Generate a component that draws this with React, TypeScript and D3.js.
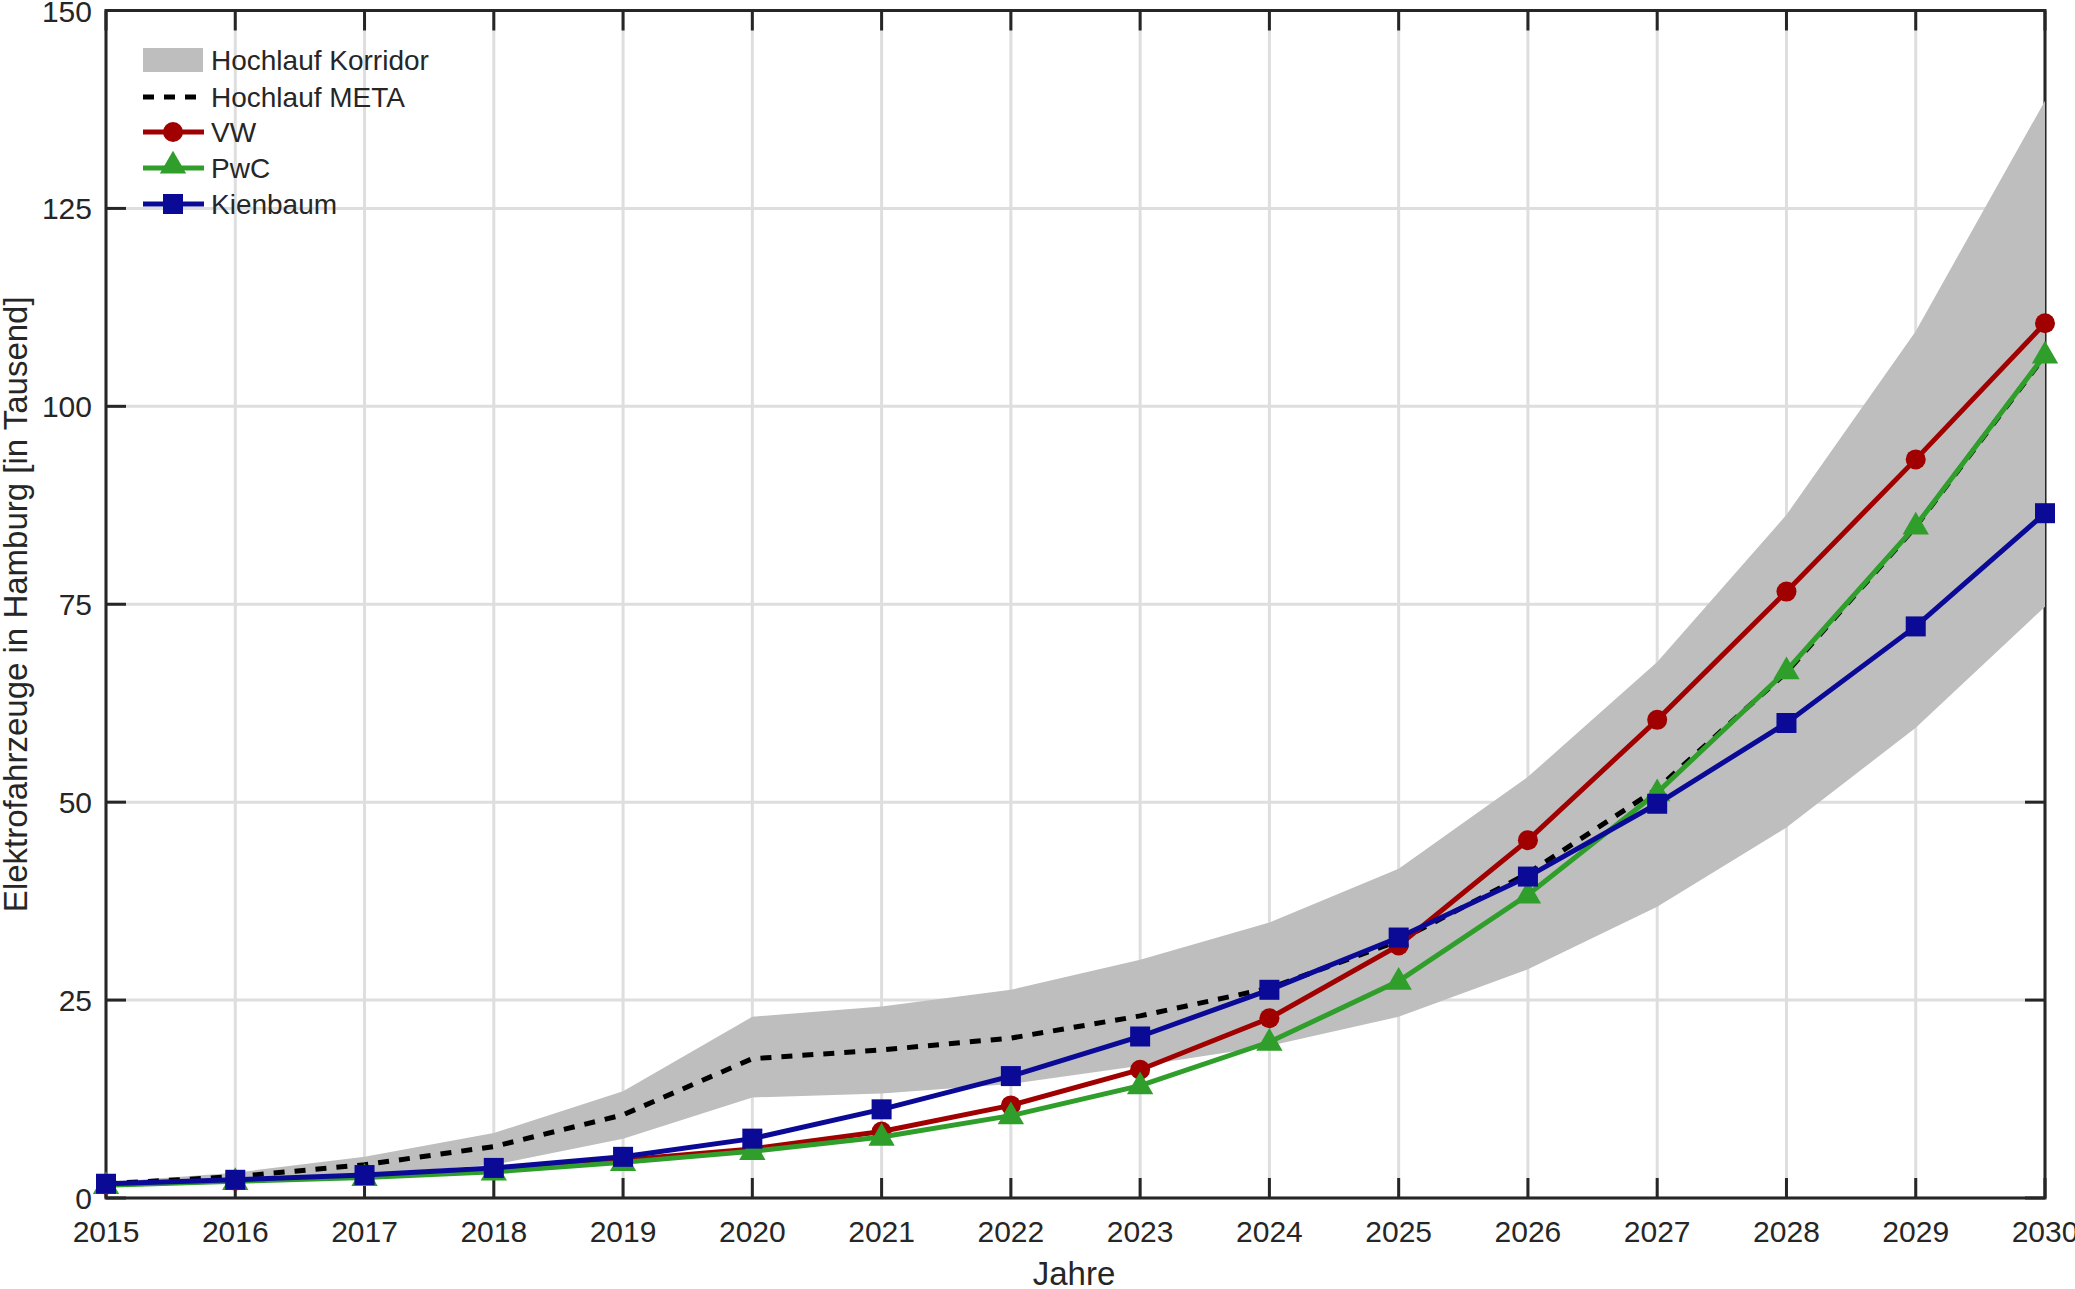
import React from "react";
import * as d3 from "d3";

const years = [2015, 2016, 2017, 2018, 2019, 2020, 2021, 2022, 2023, 2024, 2025, 2026, 2027, 2028, 2029, 2030];
const corridorUpper = [2.0, 3.2, 5.2, 8.2, 13.5, 22.9, 24.2, 26.3, 30.1, 34.8, 41.6, 53.2, 67.7, 86.3, 109.5, 138.6];
const corridorLower = [1.5, 2.2, 3.0, 4.2, 7.5, 12.7, 13.2, 14.4, 16.7, 19.2, 22.9, 28.9, 36.8, 46.8, 59.4, 74.7];
const meta = [1.8, 2.7, 4.2, 6.5, 10.5, 17.6, 18.7, 20.2, 23.0, 26.5, 32.5, 41.0, 51.7, 66.4, 84.8, 106.4];
const vw = [1.7, 2.2, 2.8, 3.5, 4.8, 6.2, 8.4, 11.7, 16.2, 22.7, 31.9, 45.2, 60.4, 76.6, 93.3, 110.5];
const pwc = [1.6, 2.1, 2.6, 3.3, 4.5, 5.9, 7.7, 10.4, 14.2, 19.7, 27.4, 38.3, 51.2, 66.6, 84.9, 106.5];
const kienbaum = [1.8, 2.3, 2.9, 3.8, 5.2, 7.5, 11.2, 15.4, 20.4, 26.3, 32.9, 40.6, 49.8, 60.0, 72.2, 86.5];
const yTicks = [0, 25, 50, 75, 100, 125, 150];
const legendLabels = ["Hochlauf Korridor", "Hochlauf META", "VW", "PwC", "Kienbaum"];

const W = 2075, H = 1289;
const L = 106, R = 2045, T = 10.5, B = 1198;
const FONT = "'Liberation Sans', Arial, Helvetica, sans-serif";
const RED = "#a00000", GREEN = "#2f9e2a", BLUE = "#0a0a96", GREY = "#bebebe";
const TXT = "#262626";

export default function App() {
  const x = d3.scaleLinear().domain([2015, 2030]).range([L, R]);
  const y = d3.scaleLinear().domain([0, 150]).range([B, T]);
  const area = d3.area<number>().x((_, i) => x(years[i])).y0((_, i) => y(corridorLower[i])).y1((d) => y(d));
  const line = d3.line<number>().x((_, i) => x(years[i])).y((d) => y(d));
  const tri = d3.symbol(d3.symbolTriangle, 300)();
  const tickLen = 20;
  const legendY = [60, 97, 132, 168, 204];

  return (
    <svg width={W} height={H} style={{ position: "absolute", left: 0, top: 0, background: "#fff" }} fontFamily={FONT}>
      <rect x={0} y={0} width={W} height={H} fill="#fff" />
      {/* grid */}
      {years.map((yr) => (
        <line key={"gx" + yr} x1={x(yr)} x2={x(yr)} y1={T} y2={B} stroke="#dedede" strokeWidth={3} />
      ))}
      {yTicks.map((v) => (
        <line key={"gy" + v} x1={L} x2={R} y1={y(v)} y2={y(v)} stroke="#dedede" strokeWidth={3} />
      ))}
      {/* ticks */}
      {years.map((yr) => (
        <g key={"tx" + yr}>
          <line x1={x(yr)} x2={x(yr)} y1={B} y2={B - tickLen} stroke={TXT} strokeWidth={3} />
          <line x1={x(yr)} x2={x(yr)} y1={T} y2={T + tickLen} stroke={TXT} strokeWidth={3} />
        </g>
      ))}
      {yTicks.map((v) => (
        <g key={"ty" + v}>
          <line x1={L} x2={L + tickLen} y1={y(v)} y2={y(v)} stroke={TXT} strokeWidth={3} />
          <line x1={R} x2={R - tickLen} y1={y(v)} y2={y(v)} stroke={TXT} strokeWidth={3} />
        </g>
      ))}
      {/* frame */}
      <rect x={L} y={T} width={R - L} height={B - T} fill="none" stroke={TXT} strokeWidth={3} />
      {/* corridor */}
      <path d={area(corridorUpper) || ""} fill={GREY} />
      {/* META */}
      <path d={line(meta) || ""} fill="none" stroke="#000" strokeWidth={5} strokeDasharray="11 10" />
      {/* VW */}
      <path d={line(vw) || ""} fill="none" stroke={RED} strokeWidth={5} />
      {vw.map((v, i) => (
        <circle key={"vw" + i} cx={x(years[i])} cy={y(v)} r={10} fill={RED} />
      ))}
      {/* PwC */}
      <path d={line(pwc) || ""} fill="none" stroke={GREEN} strokeWidth={5} />
      {pwc.map((v, i) => (
        <path key={"pw" + i} d={tri || ""} transform={`translate(${x(years[i])},${y(v) + 1})`} fill={GREEN} />
      ))}
      {/* Kienbaum */}
      <path d={line(kienbaum) || ""} fill="none" stroke={BLUE} strokeWidth={5} />
      {kienbaum.map((v, i) => (
        <rect key={"kb" + i} x={x(years[i]) - 10} y={y(v) - 10} width={20} height={20} fill={BLUE} />
      ))}
      {/* tick labels */}
      {years.map((yr) => (
        <text key={"lx" + yr} x={x(yr)} y={1242} fontSize={30} textAnchor="middle" fill={TXT}>
          {yr}
        </text>
      ))}
      {yTicks.map((v) => (
        <text key={"ly" + v} x={92} y={y(v) + 11} fontSize={30} textAnchor="end" fill={TXT}>
          {v}
        </text>
      ))}
      {/* axis labels */}
      <text x={1074} y={1285} fontSize={33} textAnchor="middle" fill={TXT}>
        Jahre
      </text>
      <text transform={`translate(27,${(T + B) / 2}) rotate(-90)`} fontSize={33} textAnchor="middle" fill={TXT}>
        Elektrofahrzeuge in Hamburg [in Tausend]
      </text>
      {/* legend */}
      <g>
        <rect x={143} y={48} width={60} height={24} fill={GREY} />
        <line x1={143} x2={204} y1={legendY[1]} y2={legendY[1]} stroke="#000" strokeWidth={5} strokeDasharray="11 10" />
        <line x1={143} x2={204} y1={legendY[2]} y2={legendY[2]} stroke={RED} strokeWidth={5} />
        <circle cx={173} cy={legendY[2]} r={10} fill={RED} />
        <line x1={143} x2={204} y1={legendY[3]} y2={legendY[3]} stroke={GREEN} strokeWidth={5} />
        <path d={tri || ""} transform={`translate(173,${legendY[3] - 2})`} fill={GREEN} />
        <line x1={143} x2={204} y1={legendY[4]} y2={legendY[4]} stroke={BLUE} strokeWidth={5} />
        <rect x={163} y={legendY[4] - 10} width={20} height={20} fill={BLUE} />
        {legendLabels.map((lab, i) => (
          <text key={lab} x={211} y={legendY[i] + 10} fontSize={28} fill={TXT}>
            {lab}
          </text>
        ))}
      </g>
    </svg>
  );
}
